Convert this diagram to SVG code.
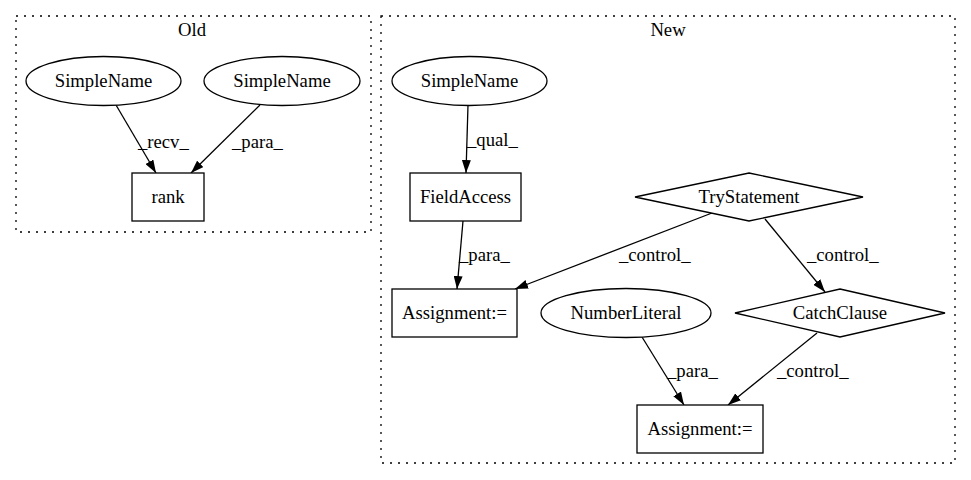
<svg xmlns="http://www.w3.org/2000/svg" width="971" height="480" viewBox="0 0 971 480">
<style>
text{font-family:"Liberation Serif","Times New Roman",serif;font-size:18.67px;fill:#000}
.c{text-anchor:middle}
.cl{fill:none;stroke:#000;stroke-width:1.3;stroke-dasharray:2,6}
.n{fill:#fff;stroke:#000;stroke-width:1.3}
.e{fill:none;stroke:#000;stroke-width:1.3}
</style>
<defs>
<marker id="ah" viewBox="0 0 13 9" refX="13" refY="4.5" markerWidth="13" markerHeight="9" markerUnits="userSpaceOnUse" orient="auto">
<path d="M0,0 L13,4.5 L0,9 z" fill="#000"/>
</marker>
</defs>
<rect width="971" height="480" fill="#fff"/>
<g id="cluster_old">
<rect class="cl" x="16" y="16" width="355" height="216"/>
<text class="c" x="192" y="36">Old</text>
</g>
<g id="cluster_new">
<rect class="cl" x="381" y="16" width="574" height="447"/>
<text class="c" x="668" y="36">New</text>
</g>
<g id="edges">
<line class="e" x1="116" y1="105" x2="156" y2="173" marker-end="url(#ah)"/>
<text x="138" y="148">_recv_</text>
<line class="e" x1="260" y1="105" x2="191" y2="173" marker-end="url(#ah)"/>
<text x="232" y="148">_para_</text>
<line class="e" x1="468" y1="105" x2="466" y2="173" marker-end="url(#ah)"/>
<text x="467" y="146">_qual_</text>
<line class="e" x1="463" y1="221" x2="457" y2="289" marker-end="url(#ah)"/>
<text x="459" y="261">_para_</text>
<line class="e" x1="712" y1="213" x2="515" y2="289" marker-end="url(#ah)"/>
<text x="619" y="261">_control_</text>
<line class="e" x1="765" y1="219" x2="825" y2="292" marker-end="url(#ah)"/>
<text x="807" y="261">_control_</text>
<line class="e" x1="642" y1="337" x2="684" y2="405" marker-end="url(#ah)"/>
<text x="667" y="377">_para_</text>
<line class="e" x1="817" y1="333" x2="728" y2="405" marker-end="url(#ah)"/>
<text x="777" y="377">_control_</text>
</g>
<g id="old_simplename_recv">
<ellipse class="n" cx="103.5" cy="81" rx="77.5" ry="24.5"/>
<text class="c" x="103.5" y="87">SimpleName</text>
</g>
<g id="old_simplename_para">
<ellipse class="n" cx="282" cy="81" rx="78" ry="24.5"/>
<text class="c" x="282" y="87">SimpleName</text>
</g>
<g id="old_rank">
<rect class="n" x="132" y="173" width="72" height="48"/>
<text class="c" x="168" y="203">rank</text>
</g>
<g id="new_simplename">
<ellipse class="n" cx="469.5" cy="81" rx="77.5" ry="24.5"/>
<text class="c" x="469.5" y="87">SimpleName</text>
</g>
<g id="new_fieldaccess">
<rect class="n" x="410" y="173" width="111" height="48"/>
<text class="c" x="465.5" y="203">FieldAccess</text>
</g>
<g id="new_trystatement">
<polygon class="n" points="749,173 863,197 749,221 635,197"/>
<text class="c" x="749" y="203">TryStatement</text>
</g>
<g id="new_assignment1">
<rect class="n" x="392" y="289" width="125" height="48"/>
<text class="c" x="454.5" y="319">Assignment:=</text>
</g>
<g id="new_numberliteral">
<ellipse class="n" cx="626" cy="313" rx="85" ry="24.5"/>
<text class="c" x="626" y="319">NumberLiteral</text>
</g>
<g id="new_catchclause">
<polygon class="n" points="840,289 945,313 840,337 735,313"/>
<text class="c" x="840" y="319">CatchClause</text>
</g>
<g id="new_assignment2">
<rect class="n" x="637" y="405" width="126" height="48"/>
<text class="c" x="700" y="435">Assignment:=</text>
</g>
</svg>
